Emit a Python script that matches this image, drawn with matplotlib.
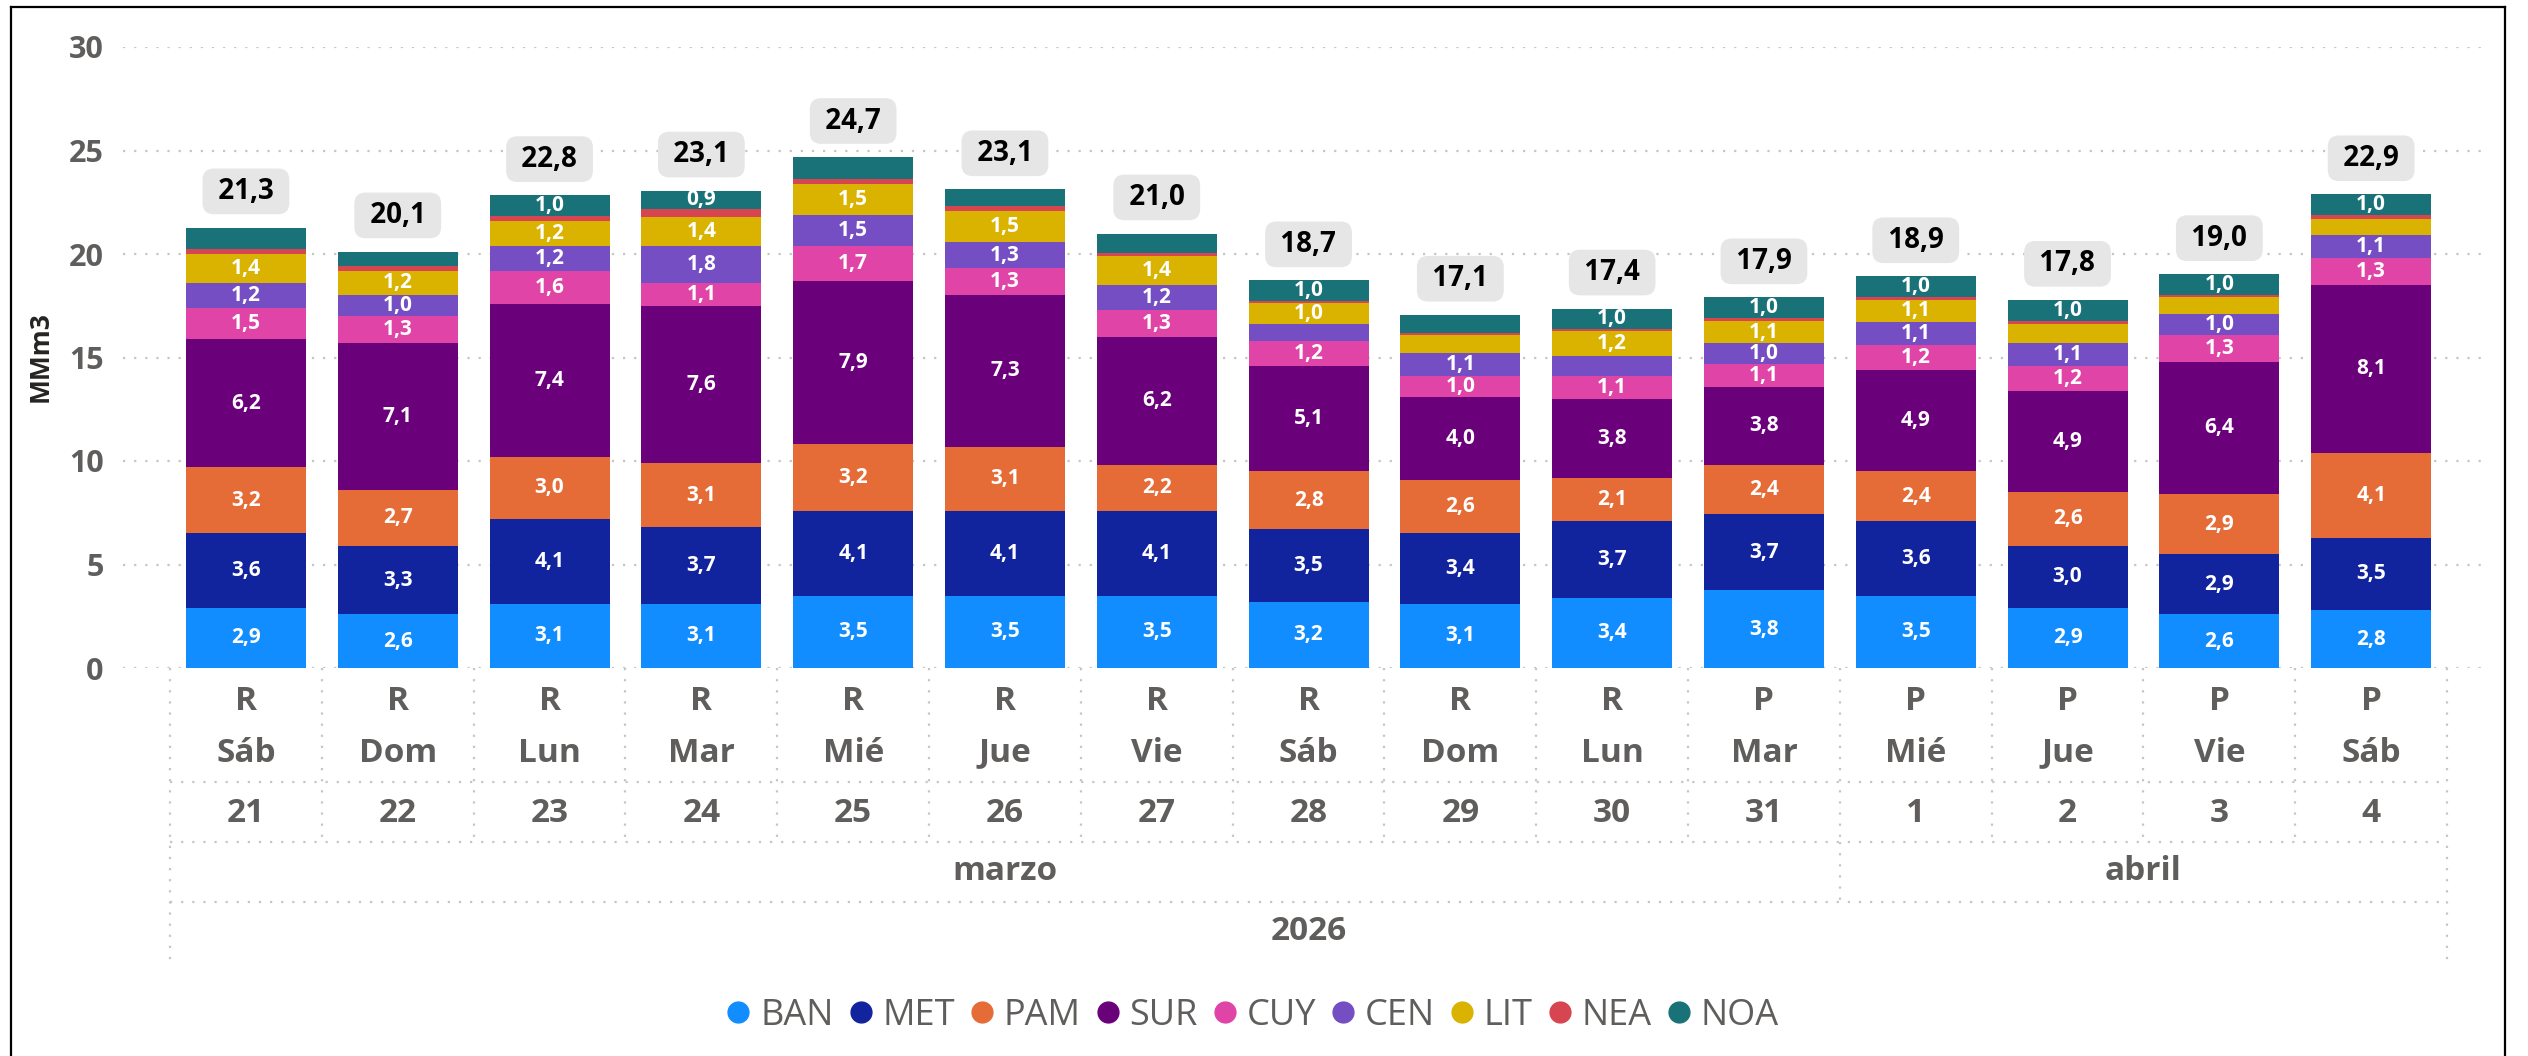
"""
Stacked daily volume by zone (MMm3), marzo-abril 2026
"""
import matplotlib
matplotlib.use("Agg")
from matplotlib import pyplot as plt
from matplotlib import transforms
from matplotlib.lines import Line2D

plt.rcParams["font.family"] = ["Open Sans", "DejaVu Sans"]

# categories (x axis hierarchy)
tipo = ["R", "R", "R", "R", "R", "R", "R", "R", "R", "R", "P", "P", "P", "P", "P"]
dia_semana = ["Sáb", "Dom", "Lun", "Mar", "Mié", "Jue", "Vie", "Sáb",
              "Dom", "Lun", "Mar", "Mié", "Jue", "Vie", "Sáb"]
dia = ["21", "22", "23", "24", "25", "26", "27", "28", "29", "30", "31", "1", "2", "3", "4"]
mes = ["marzo"] * 11 + ["abril"] * 4
anio = "2026"

# series values [MMm3]
BAN = [2.9, 2.6, 3.1, 3.1, 3.5, 3.5, 3.5, 3.2, 3.1, 3.4, 3.76, 3.5, 2.9, 2.6, 2.8]
MET = [3.6, 3.3, 4.1, 3.7, 4.1, 4.1, 4.1, 3.5, 3.4, 3.7, 3.68, 3.6, 3.0, 2.9, 3.5]
PAM = [3.2, 2.7, 3.0, 3.1, 3.2, 3.1, 2.2, 2.8, 2.6, 2.1, 2.36, 2.4, 2.6, 2.9, 4.1]
SUR = [6.2, 7.1, 7.4, 7.6, 7.9, 7.3, 6.2, 5.1, 4.0, 3.8, 3.79, 4.9, 4.9, 6.4, 8.1]
CUY = [1.5, 1.3, 1.6, 1.1, 1.7, 1.3, 1.3, 1.2, 1.0, 1.1, 1.08, 1.2, 1.2, 1.3, 1.3]
CEN = [1.2, 1.0, 1.2, 1.8, 1.5, 1.3, 1.2, 0.82, 1.1, 0.96, 1.01, 1.1, 1.1, 1.0, 1.1]
LIT = [1.4, 1.2, 1.2, 1.4, 1.5, 1.5, 1.4, 1.0, 0.88, 1.2, 1.1, 1.1, 0.93, 0.8, 0.78]
NEA = [0.26, 0.2, 0.24, 0.36, 0.24, 0.2, 0.17, 0.1, 0.1, 0.1, 0.11, 0.12, 0.15, 0.12, 0.2]
NOA = [1.02, 0.72, 1.0, 0.9, 1.04, 0.82, 0.92, 1.0, 0.88, 1.0, 1.01, 1.0, 1.0, 1.0, 1.0]

series = {"BAN": BAN, "MET": MET, "PAM": PAM, "SUR": SUR, "CUY": CUY,
          "CEN": CEN, "LIT": LIT, "NEA": NEA, "NOA": NOA}
colors = {"BAN": "#118DFF", "MET": "#12239E", "PAM": "#E66C37", "SUR": "#6B007B",
          "CUY": "#E044A7", "CEN": "#744EC2", "LIT": "#D9B300", "NEA": "#D64550",
          "NOA": "#197278"}

# labels that Power BI did not draw
hidden_labels = {(0, "NOA"), (4, "NOA"), (6, "NOA"), (9, "CEN"), (12, "LIT")}

W, H = 2528, 1056
GRAY = "#605E5C"
GRID = "#C8C6C4"


def fy(py):
    """pixel row -> figure fraction"""
    return 1 - py / H


fig = plt.figure(figsize=(W / 100, H / 100), dpi=100)
ax = fig.add_axes([123 / W, fy(668), (2485 - 123) / W, (668 - 47) / H])

x = list(range(len(dia)))
bottom = [0.0] * len(x)
for name, values in series.items():
    ax.bar(x, values, bottom=bottom, width=0.79, color=colors[name], label=name, zorder=2)
    for i, v in enumerate(values):
        if v >= 0.9 and name != "NEA" and (i, name) not in hidden_labels:
            ax.text(i, bottom[i] + v / 2, f"{v:.1f}".replace(".", ","), ha="center", va="center",
                    color="white", fontsize=15, fontweight="bold", zorder=3)
    bottom = [b + v for b, v in zip(bottom, values)]

# totals
for i, total in enumerate(bottom):
    ax.annotate(f" {total:.1f} ".replace(".", ","), xy=(i, total), xytext=(0, 26),
                textcoords="offset points", ha="center", va="center",
                fontsize=20, fontweight="bold", color="black",
                bbox=dict(boxstyle="round,pad=0.3,rounding_size=0.4", fc="#E6E6E6", ec="none"))

ax.set_xlim(-0.81, 14.75)
ax.set_ylim(0, 30)
ax.set_yticks(range(0, 31, 5))
ax.tick_params(axis="y", length=0, pad=14, labelsize=22, labelcolor=GRAY)
for lab in ax.get_yticklabels():
    lab.set_fontweight("bold")
ax.set_xticks([])
ax.yaxis.grid(True, color=GRID, linestyle=(0, (1, 4)), linewidth=1.6, zorder=0)
for s in ax.spines.values():
    s.set_visible(False)

fig.text(40 / W, fy(357), "MMm3", rotation=90, ha="center", va="center",
         fontsize=19, fontweight="bold", color="#252423")

# hierarchical category axis
trans = transforms.blended_transform_factory(ax.transData, fig.transFigure)
kw = dict(ha="center", va="center", fontsize=24, fontweight="bold", color=GRAY, transform=trans)
for i in x:
    fig.text(i, fy(702), tipo[i], **kw)
    fig.text(i, fy(753), dia_semana[i], **kw)
    fig.text(i, fy(813), dia[i], **kw)

months = []
for i, m in enumerate(mes):
    if not months or months[-1][0] != m:
        months.append([m, i, i])
    else:
        months[-1][2] = i
for m, i0, i1 in months:
    fig.text((i0 + i1) / 2, fy(872), m, **kw)
fig.text((x[0] + x[-1]) / 2, fy(932), anio, **kw)


def sep(xs, ys):
    fig.add_artist(Line2D(xs, ys, transform=trans, color=GRID, linestyle=(0, (1, 4)), linewidth=1.6))


left, right = x[0] - 0.5, x[-1] + 0.5
for i in range(1, len(x)):
    sep([i - 0.5, i - 0.5], [fy(668), fy(842)])
for m, i0, i1 in months[1:]:
    sep([i0 - 0.5, i0 - 0.5], [fy(842), fy(902)])
sep([left, left], [fy(668), fy(963)])
sep([right, right], [fy(668), fy(963)])
for py in (782, 842, 902):
    sep([left, right], [fy(py), fy(py)])

# legend
handles = [Line2D([], [], linestyle="none", marker="o", markersize=15, color=colors[n]) for n in series]
fig.legend(handles, list(series), loc="center", bbox_to_anchor=(1253 / W, fy(1016)), ncol=9,
           frameon=False, fontsize=26, labelcolor=GRAY, handlelength=0.6, handletextpad=0.3,
           columnspacing=0.45)

# outer frame
for xs, ys in (([11, 11], [7, H]), ([11, 2505], [7, 7]), ([2505, 2505], [7, H])):
    fig.add_artist(Line2D([v / W for v in xs], [fy(v) for v in ys], color="black", linewidth=1.6))

fig.savefig("out.png", dpi=100)
